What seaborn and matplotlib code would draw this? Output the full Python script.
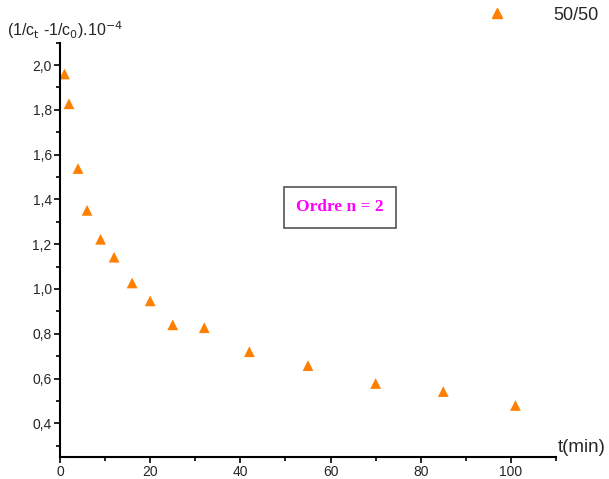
import matplotlib
matplotlib.use("Agg")
import matplotlib.pyplot as plt
import seaborn as sns
import pandas as pd
from matplotlib.ticker import MultipleLocator, FuncFormatter

t_min = [1, 2, 4, 6, 9, 12, 16, 20, 25, 32, 42, 55, 70, 85, 101]
values = [1.96, 1.827, 1.538, 1.351, 1.222, 1.142, 1.027, 0.947, 0.84, 0.827,
          0.72, 0.658, 0.578, 0.542, 0.48]
series_name = "50/50"

df = pd.DataFrame({"t": t_min, "v": values, "s": series_name})

sns.set_style("ticks")
plt.rcParams['font.family'] = ['Liberation Sans', 'DejaVu Sans']

fig = plt.figure(figsize=(6.09, 4.79), dpi=100)
ax = fig.add_axes([0.0985, 0.046, 0.8145, 0.865])

sns.scatterplot(data=df, x="t", y="v", hue="s", palette=["#FF8000"], marker="^",
                s=60, edgecolor="none", ax=ax, legend=False)

ax.set_xlim(0, 110)
ax.set_ylim(0.25, 2.1)
ax.xaxis.set_major_locator(MultipleLocator(20))
ax.xaxis.set_minor_locator(MultipleLocator(10))
ax.yaxis.set_minor_locator(MultipleLocator(0.1))
ax.set_yticks([0.4, 0.6, 0.8, 1.0, 1.2, 1.4, 1.6, 1.8, 2.0])
ax.yaxis.set_major_formatter(FuncFormatter(lambda v, p: f"{v:.1f}".replace(".", ",")))
ax.xaxis.set_major_formatter(FuncFormatter(lambda v, p: f"{v:.0f}"))
ax.tick_params(which="major", direction="out", length=4, width=1.2, labelsize=10,
               color="black", pad=2)
ax.tick_params(which="minor", direction="out", length=3, width=1.2, color="black")
ax.tick_params(axis="x", which="major", pad=1.5)
for sp in ["top", "right"]:
    ax.spines[sp].set_visible(False)
for sp in ["left", "bottom"]:
    ax.spines[sp].set_linewidth(1.5)
    ax.spines[sp].set_color("black")
ax.set_xlabel("")
ax.set_ylabel("")

fig.text(7/609, 1 - 30/479, r"(1/c$_\mathrm{t}$ -1/c$_0$).10$^{-4}$", fontsize=11.5,
         va="center", ha="left")
fig.text(558/609, 1 - 448/479, "t(min)", fontsize=13.5, va="center", ha="left")

# legend
fig.lines.append(plt.Line2D([497/609], [1 - 13/479], marker="^", color="#FF8000",
                            markersize=7, linestyle="none", transform=fig.transFigure))
fig.text(553/609, 1 - 16/479, series_name, fontsize=13, va="center", ha="left")

ax.text(62, 1.364, "Ordre n = 2", fontsize=12.5, fontweight="bold", color="#FF00FF",
        family=["Liberation Serif", "DejaVu Serif"], ha="center", va="center",
        bbox=dict(boxstyle="square,pad=0.7", fc="white", ec="#555555", lw=1.2))

fig.savefig("out.png", dpi=100)
